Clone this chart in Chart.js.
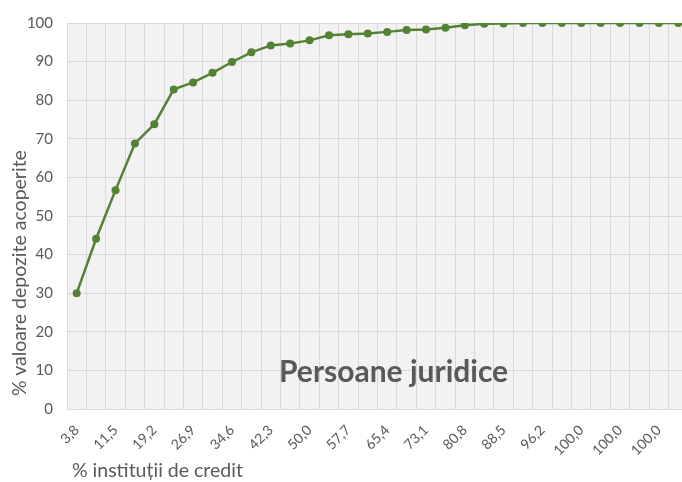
<!DOCTYPE html>
<html lang="ro">
<head>
    <meta charset="UTF-8">
    <title>Persoane juridice</title>
    <script src="https://cdn.jsdelivr.net/npm/chart.js"></script>
    <style>
        html, body { margin: 0; padding: 0; overflow: hidden; background: #fff; }
        #wrap { position: relative; width: 692px; height: 482px; }
        #label {
            position: absolute; left: 279px; top: 352px;
            font: bold 30px Lato, sans-serif; color: #595959; white-space: nowrap;
        }
        #ytitle {
            position: absolute; left: 7px; top: 396px;
            transform: rotate(-90deg); transform-origin: left top;
            font: 19.5px Lato, sans-serif; color: #595959; white-space: nowrap;
        }
    </style>
</head>
<body>
<div id="wrap">
    <canvas id="myChart" width="692" height="482"></canvas>
    <div id="label">Persoane juridice</div>
    <div id="ytitle">% valoare depozite acoperite</div>
</div>
<script>
    // % institutii de credit (cumulat)
    const categories = [
        '3,8', '7,7', '11,5', '15,4', '19,2', '23,1', '26,9', '30,8',
        '34,6', '38,5', '42,3', '46,2', '50,0', '53,8', '57,7', '61,5',
        '65,4', '69,2', '73,1', '76,9', '80,8', '84,6', '88,5', '92,3',
        '96,2', '100,0', '100,0', '100,0', '100,0', '100,0', '100,0', '100,0'
    ];
    // % valoare depozite acoperite
    const coverage = [
        30.0, 44.1, 56.7, 68.8, 73.8, 82.8, 84.6, 87.1,
        89.9, 92.4, 94.2, 94.7, 95.5, 96.8, 97.1, 97.3,
        97.7, 98.2, 98.3, 98.8, 99.4, 99.8, 99.9, 100,
        100, 100, 100, 100, 100, 100, 100, 100
    ];
    const yTicks = [0, 10, 20, 30, 40, 50, 60, 70, 80, 90, 100];

    const grey = '#595959';
    const green = '#548235';

    // fundal gri pentru zona graficului
    const plotBg = {
        id: 'plotBg',
        beforeDraw(chart) {
            const a = chart.chartArea, c = chart.ctx;
            c.save();
            c.fillStyle = '#F2F2F2';
            c.fillRect(a.left, a.top, a.right - a.left, a.bottom - a.top);
            c.restore();
        }
    };

    new Chart(document.getElementById('myChart'), {
        type: 'line',
        data: {
            labels: categories,
            datasets: [{
                data: coverage,
                borderColor: green,
                backgroundColor: green,
                borderWidth: 2.5,
                pointRadius: 4,
                pointBackgroundColor: green,
                pointBorderWidth: 0,
                tension: 0
            }]
        },
        options: {
            responsive: false,
            animation: false,
            layout: { padding: { top: 23, right: 3, left: 0, bottom: 0 } },
            plugins: { legend: { display: false }, tooltip: { enabled: false } },
            scales: {
                x: {
                    offset: true,
                    grid: { color: '#D9D9D9', offset: true, drawTicks: false },
                    border: { display: false },
                    ticks: {
                        autoSkip: false,
                        maxRotation: 45, minRotation: 45,
                        color: grey, font: { family: 'Lato', size: 14 }, padding: 13,
                        callback: function (v, i) { return i % 2 === 0 ? categories[i] : ''; }
                    },
                    title: {
                        display: true, align: 'start', text: ' % instituții de credit',
                        color: grey, font: { family: 'Lato', size: 19.5 }, padding: { top: 2, bottom: 0 }
                    },
                    afterFit: function (s) {
                        s.height = 73;
                        s.paddingLeft = 0;
                        s.paddingRight = 0;
                    }
                },
                y: {
                    min: 0, max: 100,
                    afterBuildTicks: function (s) { s.ticks = yTicks.map(v => ({ value: v })); },
                    grid: { color: '#D9D9D9', drawTicks: false },
                    border: { display: false },
                    ticks: { color: grey, font: { family: 'Lato', size: 15 }, padding: 14 },
                    afterFit: function (s) { s.width = 67; }
                }
            }
        },
        plugins: [plotBg]
    });
</script>
</body>
</html>
